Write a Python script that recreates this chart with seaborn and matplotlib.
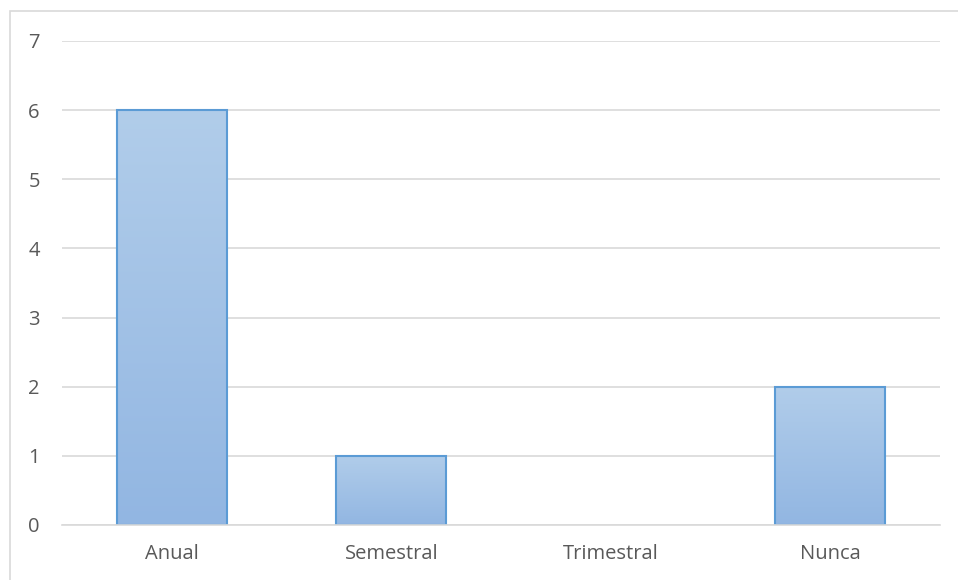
import numpy as np
import pandas as pd
import seaborn as sns
from matplotlib import pyplot as plt
from matplotlib.colors import LinearSegmentedColormap
from matplotlib.patches import Rectangle

categories = ['Anual', 'Semestral', 'Trimestral', 'Nunca']
values = [6, 1, 0, 2]

df = pd.DataFrame({'frecuencia': categories, 'n': values})

sns.set_theme(style='white')
plt.rcParams['font.family'] = ['Open Sans', 'DejaVu Sans']

W, H = 958, 580
fig = plt.figure(figsize=(W / 100, H / 100), dpi=100)
ax = fig.add_axes([62 / W, (H - 525) / H, (940 - 62) / W, (525 - 41) / H])

sns.barplot(data=df, x='frecuencia', y='n', width=0.5, color='#a3c1e7',
            edgecolor='#5b9bd5', linewidth=1.5, ax=ax, zorder=3)

# vertical gradient inside each bar, like the spreadsheet fill
grad = LinearSegmentedColormap.from_list('g', ['#92b6e2', '#b1cdea'])
for bar in ax.patches:
    h = bar.get_height()
    if h <= 0:
        bar.set_visible(False)
        continue
    x0 = bar.get_x()
    w = bar.get_width()
    im = ax.imshow(np.linspace(0, 1, 256).reshape(-1, 1), cmap=grad, aspect='auto',
                   origin='lower', extent=(x0, x0 + w, 0, h), zorder=3.5)
    im.set_clip_path(bar)
    bar.set_facecolor('none')
    bar.set_zorder(4)

ax.set_xlim(-0.5, 3.5)
ax.set_ylim(0, 7)
ax.set_yticks(range(0, 8))
ax.yaxis.grid(True, color='#d9d9d9', linewidth=1.2, zorder=0)
ax.xaxis.grid(False)
for s in ['top', 'right', 'left']:
    ax.spines[s].set_visible(False)
ax.spines['bottom'].set_color('#d9d9d9')
ax.spines['bottom'].set_linewidth(1.2)
ax.spines['bottom'].set_zorder(5)
ax.tick_params(axis='both', length=0, labelsize=14.5, labelcolor='#595959')
ax.tick_params(axis='y', pad=16)
ax.tick_params(axis='x', pad=14)
ax.set_xlabel('')
ax.set_ylabel('')

# outer chart border
fig.patches.append(Rectangle((10 / W, -0.1), 1.1, (H - 11) / H + 0.1, transform=fig.transFigure,
                             fill=False, edgecolor='#d9d9d9', linewidth=1.2))

fig.savefig('out.png', dpi=100)
